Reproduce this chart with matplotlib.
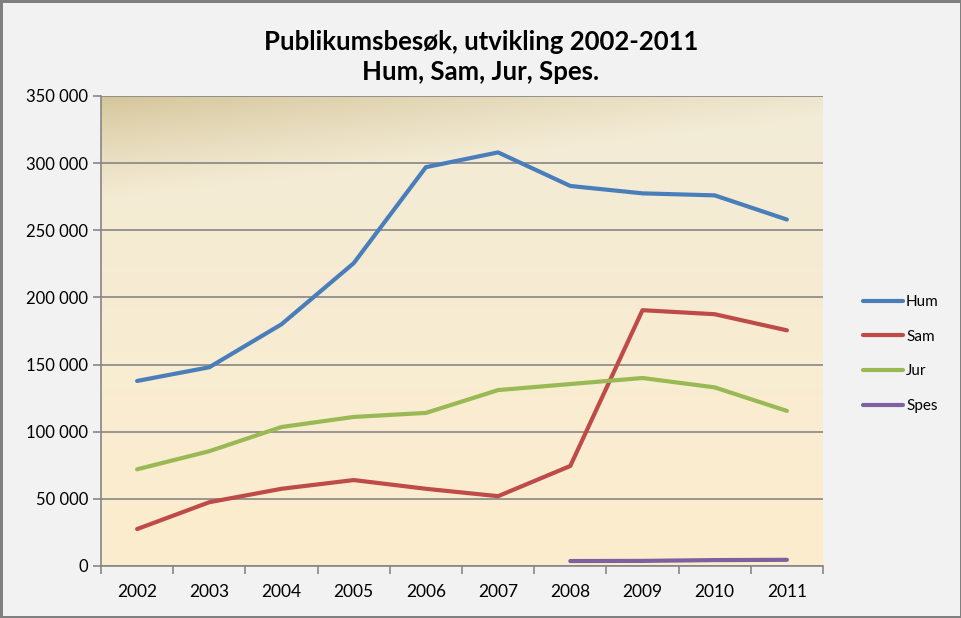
import numpy as np
import matplotlib.pyplot as plt
from matplotlib.ticker import FuncFormatter

# values
YEARS = ["2002", "2003", "2004", "2005", "2006", "2007", "2008", "2009", "2010", "2011"]
hum = [137800, 148000, 180000, 225500, 297000, 308000, 283000, 277500, 276000, 258000]
sam = [27500, 47500, 57500, 64000, 57500, 52000, 74500, 190500, 187500, 175500]
jur = [72000, 85500, 103500, 111000, 114000, 131000, 135500, 140000, 133000, 115500]
spes = [None, None, None, None, None, None, 3700, 3800, 4400, 4600]

SERIES = [("Hum", hum, "#4a7ebb"), ("Sam", sam, "#be4b48"),
          ("Jur", jur, "#98b954"), ("Spes", spes, "#7d60a0")]

plt.rcParams['font.family'] = ['Lato', 'DejaVu Sans']

fig = plt.figure(figsize=(9.62, 6.18), dpi=100, facecolor="#f2f2f2",
                 edgecolor="#808080", linewidth=2.5)
ax = fig.add_axes([101 / 962, 52 / 618, 722 / 962, 470 / 618])

# gradient fill for the plot area (tan corner top-left fading to cream)
h, w = 200, 300
yy, xx = np.mgrid[0:1:h * 1j, 0:1:w * 1j]
d = np.clip((yy * 1.0 + xx * 0.18) / 0.22, 0, 1) ** 0.8
tan = np.array([212, 196, 152]) / 255
cream = np.array([242, 235, 214]) / 255
bottom = np.array([253, 237, 206]) / 255
base = cream[None, None, :] * (1 - yy[..., None]) + bottom[None, None, :] * yy[..., None]
img = tan[None, None, :] * (1 - d[..., None]) + base * d[..., None]
ax.imshow(img, extent=[0, 1, 0, 1], transform=ax.transAxes, aspect="auto", zorder=0)

x = np.arange(len(YEARS))
for name, vals, col in SERIES:
    v = np.array([np.nan if a is None else a for a in vals], dtype=float)
    ax.plot(x, v, color=col, lw=3, label=name, solid_capstyle="round", zorder=3)

ax.set_xlim(-0.5, len(YEARS) - 0.5)
ax.set_ylim(0, 350000)
ax.set_yticks(np.arange(0, 350001, 50000))
ax.yaxis.set_major_formatter(FuncFormatter(lambda v, p: f"{int(v):,}".replace(",", " ")))
ax.set_xticks(x)
ax.set_xticklabels(YEARS)
ax.set_xticks(np.arange(-0.5, len(YEARS), 1), minor=True)
ax.tick_params(axis="x", which="major", length=0, pad=13, labelsize=12.5)
ax.tick_params(axis="x", which="minor", length=6, color="#868686", width=1.2)
ax.tick_params(axis="y", length=6, color="#868686", width=1.2, labelsize=12, pad=3)
ax.grid(axis="y", color="#868686", lw=1.2, zorder=1)
ax.set_axisbelow(True)
for s in ["top", "right"]:
    ax.spines[s].set_visible(False)
for s in ["left", "bottom"]:
    ax.spines[s].set_color("#868686")
    ax.spines[s].set_linewidth(1.2)

fig.text(0.5, 0.908, "Publikumsbesøk, utvikling 2002-2011\nHum, Sam, Jur, Spes.",
         ha="center", va="center", fontsize=18.5, fontweight="bold", linespacing=1.3)

fig.legend(loc="center left", bbox_to_anchor=(0.883, 0.427), frameon=False,
           fontsize=11, handlelength=2.6, handletextpad=0.2, labelspacing=1.35)

fig.savefig("out.png", dpi=100, facecolor=fig.get_facecolor(), edgecolor=fig.get_edgecolor())
